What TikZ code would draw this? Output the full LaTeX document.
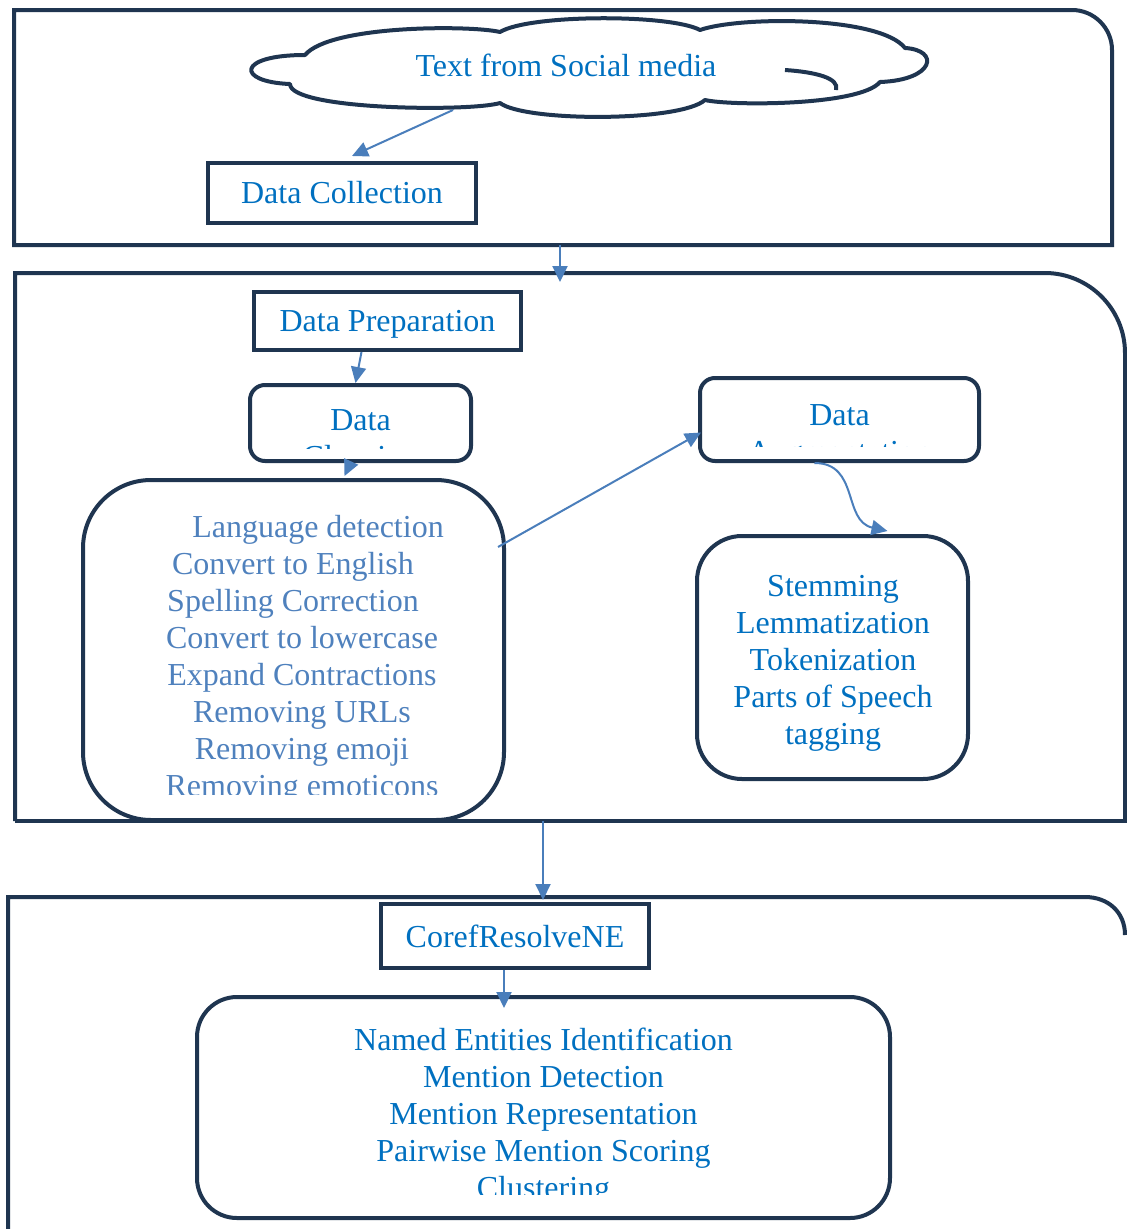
\documentclass[tikz,border=0pt]{standalone}
\usepackage{fontspec}
\setmainfont{Liberation Serif}
\usepackage{tikz}
\usetikzlibrary{arrows.meta}
\definecolor{navy}{HTML}{1F3550}
\definecolor{linkblue}{HTML}{4A7EBB}
\definecolor{txtblue}{HTML}{0070C0}
\definecolor{softblue}{HTML}{4F81BD}

\tikzset{
	frame/.style={draw=navy, line width=4pt},
	sqbox/.style={frame, rectangle, inner sep=0pt},
	rbox/.style={frame, rectangle, rounded corners=#1, inner sep=0pt},
	link/.style={draw=linkblue, line width=2pt, -{Triangle[length=16pt,width=15pt]}},
	lbl/.style={text=txtblue, font=\fontsize{32}{37}\selectfont, align=center, inner sep=0pt}
}

\begin{document}
\begin{tikzpicture}[x=1pt,y=-1pt]
	\useasboundingbox (0,0) rectangle (1127,1229);
	% the three stages
	\draw[frame] (14,245) -- (14,10) -- (1072,10) .. controls (1094,10) and (1112,28) .. (1112,50) -- (1112,245) -- cycle;
	\draw[frame] (15,821) -- (15,273) -- (1045,273) .. controls (1089,273) and (1125,309) .. (1125,353) -- (1125,821);
	\draw[frame] (1127,821) -- (15,821);
	\draw[frame] (8,1229) -- (8,897) -- (1085,897) .. controls (1108,897) and (1125,912) .. (1125,935);

	% stage 1
	\draw[frame, line join=round] (305,55)
		.. controls (330,25) and (470,25) .. (500,32)
		.. controls (530,14) and (670,14) .. (700,30)
		.. controls (740,16) and (880,16) .. (905,48)
		.. controls (940,50) and (935,80) .. (880,82)
		.. controls (860,106) and (730,106) .. (705,100)
		.. controls (680,122) and (525,122) .. (500,103)
		.. controls (470,112) and (290,110) .. (290,84)
		.. controls (236,82) and (236,55) .. cycle;
	\draw[frame] (785,70) .. controls (815,72) and (840,78) .. (836,90);
	\node[lbl] (socialtxt) at (566,65) {Text from Social media};
	\node[sqbox, minimum width=268pt, minimum height=60pt] (collect) at (342,193) {};
	\node[lbl] (collecttxt) at (collect.center) {Data Collection};

	% stage 2
	\node[sqbox, minimum width=267pt, minimum height=58pt] (prep) at (387.5,321) {};
	\node[lbl] (preptxt) at (387.5,324) {Data Preparation};
	\node[rbox=15pt, minimum width=221pt, minimum height=76pt] (clean) at (360.5,423) {};
	\begin{scope}
		\clip (252,387) rectangle (469,448);
		\node[lbl] (cleantxt) at (360.5,442) {Data\\Cleaning};
	\end{scope}
	\node[rbox=68pt, minimum width=421pt, minimum height=340pt] (list) at (293.5,650) {};
	\begin{scope}
		\clip (90,490) rectangle (498,794);
		\node[lbl, text=softblue] (listtxt) at (302,659.5) {\hspace*{32pt}Language detection\\\hspace*{-18pt}Convert to English\\\hspace*{-18pt}Spelling Correction\\Convert to lowercase\\Expand Contractions\\Removing URLs\\Removing emoji\\Removing emoticons};
	\end{scope}
	\node[rbox=15pt, minimum width=279pt, minimum height=83pt] (aug) at (839.5,419.5) {};
	\begin{scope}
		\clip (702,380) rectangle (977,446);
		\node[lbl] (augtxt) at (839.5,436.5) {Data\\Augmentation};
	\end{scope}
	\node[rbox=45pt, minimum width=271pt, minimum height=243pt] (stem) at (832.5,657.5) {};
	\node[lbl] (stemtxt) at (833,663) {Stemming\\Lemmatization\\Tokenization\\Parts of Speech\\tagging};

	% stage 3
	\node[sqbox, minimum width=268pt, minimum height=64pt] (coref) at (515,936) {};
	\node[lbl] (coreftxt) at (coref.center) {CorefResolveNE};
	\node[rbox=40pt, minimum width=693pt, minimum height=221pt] (ner) at (543.5,1107.5) {};
	\begin{scope}
		\clip (205,1000) rectangle (882,1194);
		\node[lbl] (nertxt) at (543.5,1116.5) {Named Entities Identification\\Mention Detection\\Mention Representation\\Pairwise Mention Scoring\\Clustering};
	\end{scope}

	% connectors
	\coordinate (cloudfoot) at (453,110);
	\coordinate (out1) at (560,245);
	\coordinate (in2) at (560,282);
	\coordinate (out2) at (543,821);
	\coordinate (in3) at (543,900);
	\coordinate (listout) at (498,547);
	\draw[link] (cloudfoot) -- ([xshift=10pt,yshift=5pt]collect.north);
	\draw[link] (out1) -- (in2);
	\draw[link] ([xshift=-26pt]prep.south) -- ([xshift=-5pt]clean.north);
	\draw[link] ([xshift=-10pt]clean.south) -- ([xshift=51pt,yshift=2pt]list.north);
	\draw[link] (listout) -- ([xshift=3pt,yshift=-13pt]aug.west);
	\draw[link] ([xshift=-25pt]aug.south) .. controls +(45,0) and +(-45,-10) .. ([xshift=55pt,yshift=3pt]stem.north);
	\draw[link] (out2) -- (in3);
	\draw[link] ([xshift=-11pt]coref.south) -- ([xshift=-39.5pt,yshift=-13pt]ner.north);
\end{tikzpicture}
\end{document}
